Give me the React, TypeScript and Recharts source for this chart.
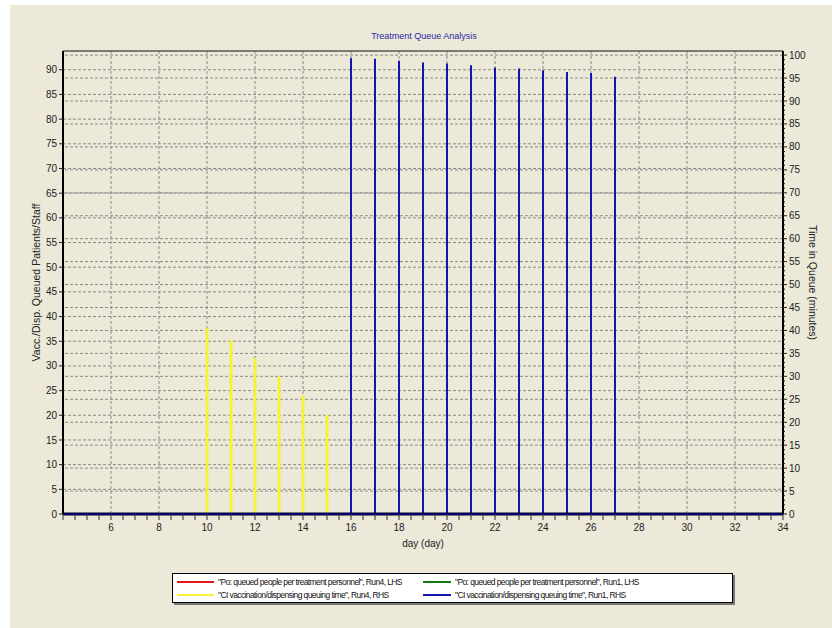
import React from 'react';
import { LineChart, Line, XAxis, YAxis, ReferenceLine } from 'recharts';

// day positions and queue values
const run4Days = [10, 11, 12, 13, 14, 15];
const run4QueueTime = [40.5, 37.9, 34.0, 29.9, 25.8, 21.6];
const run1Days = [16, 17, 18, 19, 20, 21, 22, 23, 24, 25, 26, 27];
const run1QueueTime = [99.3, 99.2, 98.8, 98.4, 98.2, 97.8, 97.3, 97.1, 96.7, 96.3, 96.1, 95.3];

const dayStart = 4;
const dayEnd = 34;
const leftMax = 93.8;
const rightMax = 100.9;

const leftTicks = [0, 5, 10, 15, 20, 25, 30, 35, 40, 45, 50, 55, 60, 65, 70, 75, 80, 85, 90];
const rightLabelTicks = [0, 5, 10, 15, 20, 25, 30, 35, 40, 45, 50, 55, 60, 65, 70, 75, 80, 85, 90, 95, 100];
const gridDays = [6, 8, 10, 12, 14, 16, 18, 20, 22, 24, 26, 28, 30, 32];

const halfDayTicks: number[] = [];
for (let d = dayStart; d <= dayEnd; d += 0.5) halfDayTicks.push(d);
const rightMinorTicks: number[] = [];
for (let v = 0; v <= 100; v += 1) rightMinorTicks.push(v);

// spikes: the series sit at zero and jump at each listed day
const toSpikes = (days: number[], values: number[]) => {
  const pts = [{ day: dayStart, v: 0 }];
  days.forEach((d, i) => {
    pts.push({ day: d, v: 0 }, { day: d, v: values[i] }, { day: d, v: 0 });
  });
  pts.push({ day: dayEnd, v: 0 });
  return pts;
};
const flat = [
  { day: dayStart, v: 0 },
  { day: dayEnd, v: 0 },
];

const series = [
  { key: 'po4', label: '"Po: queued people per treatment personnel", Run4, LHS', color: '#E01818', axis: 'left', data: flat, width: 2 },
  { key: 'po1', label: '"Po: queued people per treatment personnel", Run1, LHS', color: '#107A10', axis: 'left', data: flat, width: 2 },
  { key: 'ci4', label: '"CI vaccination/dispensing queuing time", Run4, RHS', color: '#F6F23A', axis: 'right', data: toSpikes(run4Days, run4QueueTime), width: 3 },
  { key: 'ci1', label: '"CI vaccination/dispensing queuing time", Run1, RHS', color: '#1414B4', axis: 'right', data: toSpikes(run1Days, run1QueueTime), width: 2 },
];

const font = '"Liberation Sans", Arial, sans-serif';
const gridStroke = '#8a8a8a';

const DayTick = ({ x, y, payload }: any) => {
  const v = payload.value;
  const labelled = v > dayStart && v % 2 === 0;
  return (
    <g>
      <line x1={x} y1={y} x2={x} y2={y + 6} stroke="#333" strokeWidth={1} />
      {labelled && (
        <text x={x} y={y + 17} textAnchor="middle" fontSize={10} fill="#222" fontFamily={font}>
          {v}
        </text>
      )}
    </g>
  );
};

const RightTick = ({ x, y, payload }: any) => {
  const v = payload.value;
  const major = v % 5 === 0;
  return (
    <g>
      <line x1={x} y1={y} x2={x + (major ? 4 : 2)} y2={y} stroke="#222" strokeWidth={1} />
      {major && (
        <text x={x + 6} y={y + 3.5} textAnchor="start" fontSize={10} fill="#222" fontFamily={font}>
          {v}
        </text>
      )}
    </g>
  );
};

export default function App() {
  return (
    <div style={{ position: 'absolute', left: 0, top: 0, width: 832, height: 628, background: '#fff', fontFamily: font }}>
      <div style={{ position: 'absolute', left: 10, top: 5, width: 822, height: 623, background: '#ECE9D8' }} />
      <div
        style={{
          position: 'absolute',
          left: 0,
          width: 848,
          top: 31,
          textAlign: 'center',
          fontSize: 9,
          color: '#2828A8',
        }}
      >
        Treatment Queue Analysis
      </div>
      <div style={{ position: 'absolute', left: 0, top: 0 }}>
        <LineChart width={832} height={628} margin={{ top: 51, right: 0, bottom: 78, left: 0 }}>
          <XAxis
            type="number"
            dataKey="day"
            domain={[dayStart, dayEnd]}
            ticks={halfDayTicks}
            interval={0}
            tick={<DayTick />}
            tickSize={0}
            tickMargin={0}
            tickLine={false}
            axisLine={{ stroke: '#00006E', strokeWidth: 3 }}
            height={36}
            allowDuplicatedCategory={false}
            label={{ value: 'day (day)', position: 'insideBottom', offset: 3, fontSize: 10, fill: '#222', fontFamily: font }}
          />
          <YAxis
            yAxisId="left"
            type="number"
            domain={[0, leftMax]}
            ticks={leftTicks}
            interval={0}
            width={63}
            tickSize={4}
            tickMargin={2}
            tick={{ fontSize: 10, fill: '#222', fontFamily: font }}
            tickLine={{ stroke: '#222' }}
            axisLine={{ stroke: '#000', strokeWidth: 2 }}
            label={{
              value: 'Vacc./Disp. Queued Patients/Staff',
              angle: -90,
              position: 'insideLeft',
              offset: 36,
              style: { textAnchor: 'middle' },
              fontSize: 10.5,
              fill: '#222',
              fontFamily: font,
            }}
          />
          <YAxis
            yAxisId="right"
            orientation="right"
            type="number"
            domain={[0, rightMax]}
            ticks={rightMinorTicks}
            interval={0}
            width={49}
            tickSize={0}
            tickMargin={0}
            tickLine={false}
            tick={<RightTick />}
            axisLine={{ stroke: '#000', strokeWidth: 2 }}
            label={{
              value: 'Time in Queue (minutes)',
              angle: 90,
              position: 'insideRight',
              offset: 19,
              style: { textAnchor: 'middle' },
              fontSize: 10.5,
              fill: '#222',
              fontFamily: font,
            }}
          />
          {gridDays.map((d) => (
            <ReferenceLine key={'gx' + d} yAxisId="left" x={d} stroke={gridStroke} strokeDasharray="3 2" />
          ))}
          {leftTicks.slice(1).map((v) => (
            <ReferenceLine key={'gl' + v} yAxisId="left" y={v} stroke={gridStroke} strokeDasharray="3 2" />
          ))}
          {rightLabelTicks.slice(1).map((v) => (
            <ReferenceLine key={'gr' + v} yAxisId="right" y={v} stroke={gridStroke} strokeDasharray="3 2" />
          ))}
          <ReferenceLine yAxisId="left" y={leftMax} stroke="#555" strokeWidth={1.5} />
          {series.map((s) => (
            <Line
              key={s.key}
              yAxisId={s.axis}
              data={s.data}
              dataKey="v"
              type="linear"
              stroke={s.color}
              strokeWidth={s.width}
              dot={false}
              activeDot={false}
              isAnimationActive={false}
            />
          ))}
        </LineChart>
      </div>
      <div
        style={{
          position: 'absolute',
          left: 172,
          top: 573,
          width: 559,
          height: 28,
          background: '#fff',
          border: '1px solid #000',
          boxShadow: '2px 2px 0 #777',
          fontSize: 8.5,
          letterSpacing: -0.6,
          color: '#111',
        }}
      >
        {series.map((s, i) => (
          <div
            key={s.key}
            style={{
              position: 'absolute',
              left: i % 2 === 0 ? 4 : 250,
              top: i < 2 ? 1 : 14,
              display: 'flex',
              alignItems: 'center',
              height: 13,
              whiteSpace: 'nowrap',
            }}
          >
            <div style={{ width: i % 2 === 0 ? 37 : 28, height: 2, background: s.color, marginRight: 4 }} />
            <span>{s.label}</span>
          </div>
        ))}
      </div>
    </div>
  );
}
